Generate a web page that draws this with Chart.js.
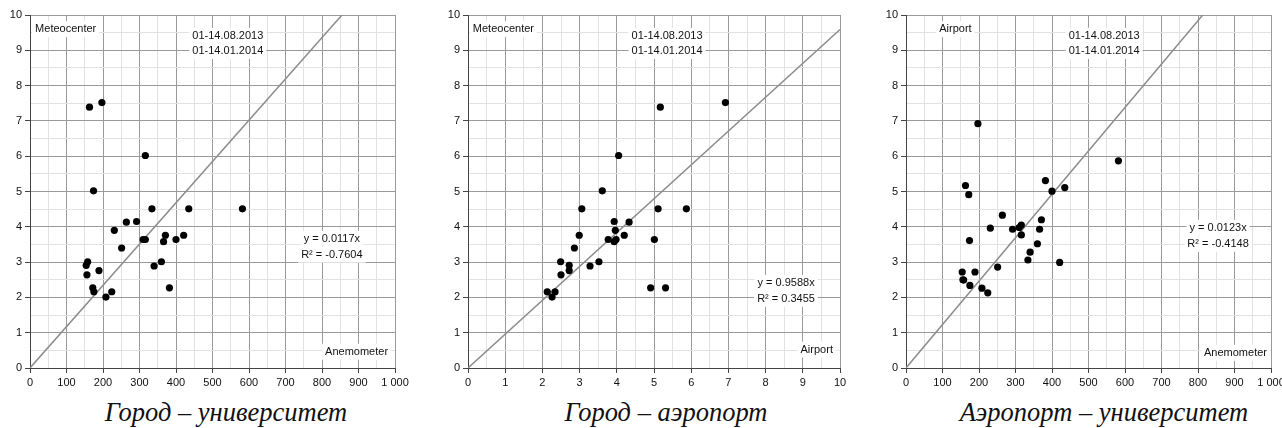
<!DOCTYPE html>
<html>
<head>
<meta charset="utf-8">
<script src="https://cdn.jsdelivr.net/npm/chart.js@4"></script>
<style>
  html, body { margin: 0; padding: 0; background: #fff; overflow: hidden; width: 1282px; height: 428px; }
  .panel { position: absolute; top: 0; }
  .caption {
    position: absolute; top: 397px; white-space: nowrap;
    font-family: "Liberation Serif", "Times New Roman", serif;
    font-style: italic; font-size: 26.5px; line-height: 30px; color: #111;
    transform: translateX(-50%);
  }
</style>
</head>
<body>
<canvas id="c1" class="panel" width="415" height="390" style="left:0px"></canvas>
<canvas id="c2" class="panel" width="422" height="390" style="left:438px"></canvas>
<canvas id="c3" class="panel" width="415" height="390" style="left:876px"></canvas>
<div class="caption" style="left:226px">Город – университет</div>
<div class="caption" style="left:666px">Город – аэропорт</div>
<div class="caption" style="left:1104px">Аэропорт – университет</div>

<script>
// Daily wind observations, 01-14.08.2013 and 01-14.01.2014, one entry per day
const anemometer  = [163, 197, 316, 174, 334, 435, 582, 264, 292, 231, 371, 421, 310, 316,
                     400, 366, 251, 158, 154, 360, 340, 189, 156, 172, 175, 382, 224, 208];
const meteocenter = [7.39, 7.52, 6.02, 5.02, 4.51, 4.51, 4.51, 4.13, 4.15, 3.90, 3.76, 3.76, 3.64, 3.64,
                     3.64, 3.58, 3.40, 3.01, 2.91, 3.01, 2.89, 2.76, 2.64, 2.27, 2.16, 2.27, 2.16, 2.01];
const airport     = [5.17, 6.92, 4.05, 3.61, 3.06, 5.11, 5.87, 4.33, 3.93, 3.96, 4.20, 2.99, 3.98, 3.77,
                     5.01, 3.93, 2.86, 2.49, 2.72, 3.52, 3.28, 2.72, 2.50, 4.91, 2.34, 5.31, 2.13, 2.26];

// Trend lines through the origin (y = k·x) and their R² values
const slopes   = [0.0117, 0.9588, 0.0123];
const rSquared = ['-0.7604', '0.3455', '-0.4148'];

// Axis tick labels
const anemTicks  = ['0', '100', '200', '300', '400', '500', '600', '700', '800', '900', '1 000'];
const speedTicks = ['0', '1', '2', '3', '4', '5', '6', '7', '8', '9', '10'];
const periods    = ['01-14.08.2013', '01-14.01.2014'];

Chart.defaults.font.family = '"Liberation Sans", Arial, sans-serif';
Chart.defaults.font.size = 11;
Chart.defaults.color = '#111';

// Text boxes with white background, positioned in data units
const boxLabels = {
  id: 'boxLabels',
  afterDatasetsDraw(chart, args, opts) {
    const { ctx, scales: { x, y } } = chart;
    ctx.save();
    ctx.font = '11px "Liberation Sans", Arial, sans-serif';
    ctx.textBaseline = 'middle';
    for (const l of opts.items || []) {
      const px = x.getPixelForValue(l.x);
      const py = y.getPixelForValue(l.y);
      const w = ctx.measureText(l.text).width;
      let left = px;
      if (l.align === 'center') left = px - w / 2;
      else if (l.align === 'right') left = px - w;
      ctx.fillStyle = '#fff';
      ctx.fillRect(left - 3, py - 8, w + 6, 16);
      ctx.fillStyle = '#111';
      ctx.textAlign = 'left';
      ctx.fillText(l.text, left, py);
    }
    ctx.restore();
  }
};

function isMajor(v, step) {
  return Math.abs(v / step - Math.round(v / step)) < 1e-6;
}

function axis(max, step, labels, isX) {
  const major = max / 10;
  return {
    type: 'linear', min: 0, max: max,
    afterFit(s) { if (isX) s.height = 22; else s.width = 30; },
    border: { color: '#444', width: 1 },
    grid: {
      color: c => isMajor(c.tick.value, major) ? '#9a9a9a' : '#e2e2e2',
      lineWidth: 1,
      tickLength: 5,
      tickColor: c => isMajor(c.tick.value, major) ? '#444' : 'rgba(0,0,0,0)'
    },
    ticks: {
      stepSize: step,
      padding: 3,
      autoSkip: false,
      maxRotation: 0,
      color: '#111',
      callback: v => isMajor(v, major) ? labels[Math.round(v / major)] : ''
    }
  };
}

function makeChart(id, xs, ys, xMax, xStep, xLabels, slope, r2, labels) {
  const points = xs.map((v, i) => ({ x: v, y: ys[i] }));
  const trend = [{ x: 0, y: 0 }, { x: xMax, y: slope * xMax }];
  return new Chart(document.getElementById(id), {
    type: 'scatter',
    data: {
      datasets: [
        {
          type: 'line', data: trend, borderColor: '#8c8c8c', borderWidth: 1.5,
          pointRadius: 0, fill: false, order: 2
        },
        {
          data: points, backgroundColor: '#000', borderColor: '#000',
          pointRadius: 3.6, pointHoverRadius: 3.6, borderWidth: 0, order: 1
        }
      ]
    },
    options: {
      responsive: false,
      animation: false,
      layout: { padding: { top: 15, right: 20, bottom: 0, left: 0 } },
      plugins: {
        legend: { display: false },
        tooltip: { enabled: false },
        boxLabels: { items: labels }
      },
      scales: {
        x: axis(xMax, xStep, xLabels, true),
        y: axis(10, 0.5, speedTicks, false)
      }
    },
    plugins: [boxLabels]
  });
}

makeChart('c1', anemometer, meteocenter, 1000, 50, anemTicks, slopes[0], rSquared[0], [
  { text: 'Meteocenter', x: 14, y: 9.6, align: 'left' },
  { text: periods[0], x: 542, y: 9.41, align: 'center' },
  { text: periods[1], x: 542, y: 8.98, align: 'center' },
  { text: 'y = ' + slopes[0] + 'x', x: 827, y: 3.66, align: 'center' },
  { text: 'R² = ' + rSquared[0], x: 827, y: 3.21, align: 'center' },
  { text: 'Anemometer', x: 981, y: 0.46, align: 'right' }
]);

makeChart('c2', airport, meteocenter, 10, 0.5, speedTicks, slopes[1], rSquared[1], [
  { text: 'Meteocenter', x: 0.13, y: 9.6, align: 'left' },
  { text: periods[0], x: 5.35, y: 9.41, align: 'center' },
  { text: periods[1], x: 5.35, y: 8.98, align: 'center' },
  { text: 'y = ' + slopes[1] + 'x', x: 8.55, y: 2.41, align: 'center' },
  { text: 'R² = ' + rSquared[1], x: 8.55, y: 1.96, align: 'center' },
  { text: 'Airport', x: 9.81, y: 0.52, align: 'right' }
]);

makeChart('c3', anemometer, airport, 1000, 50, anemTicks, slopes[2], rSquared[2], [
  { text: 'Airport', x: 91, y: 9.6, align: 'left' },
  { text: periods[0], x: 543, y: 9.41, align: 'center' },
  { text: periods[1], x: 543, y: 8.98, align: 'center' },
  { text: 'y = ' + slopes[2] + 'x', x: 855, y: 3.97, align: 'center' },
  { text: 'R² = ' + rSquared[2], x: 855, y: 3.52, align: 'center' },
  { text: 'Anemometer', x: 989, y: 0.43, align: 'right' }
]);
</script>
</body>
</html>
